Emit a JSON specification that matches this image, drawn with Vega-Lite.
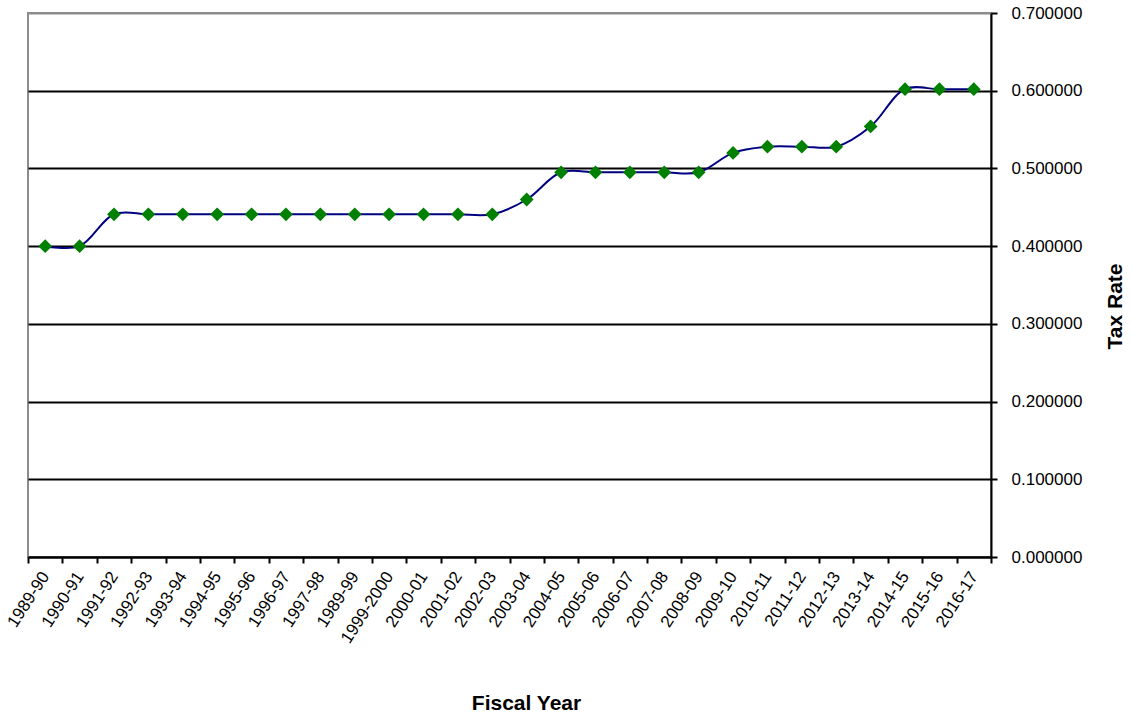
{
  "$schema": "https://vega.github.io/schema/vega-lite/v6.json",
  "width": 963,
  "height": 544,
  "autosize": {"type": "none"},
  "padding": {"left": 28, "top": 13, "right": 142, "bottom": 164},
  "background": "white",
  "config": {
    "view": {"stroke": "#8c8c8c", "strokeWidth": 2},
    "font": "Liberation Sans"
  },
  "data": {
    "values": [
      {"year": "1989-90", "rate": 0.400},
      {"year": "1990-91", "rate": 0.400},
      {"year": "1991-92", "rate": 0.441},
      {"year": "1992-93", "rate": 0.441},
      {"year": "1993-94", "rate": 0.441},
      {"year": "1994-95", "rate": 0.441},
      {"year": "1995-96", "rate": 0.441},
      {"year": "1996-97", "rate": 0.441},
      {"year": "1997-98", "rate": 0.441},
      {"year": "1989-99", "rate": 0.441},
      {"year": "1999-2000", "rate": 0.441},
      {"year": "2000-01", "rate": 0.441},
      {"year": "2001-02", "rate": 0.441},
      {"year": "2002-03", "rate": 0.441},
      {"year": "2003-04", "rate": 0.460},
      {"year": "2004-05", "rate": 0.495},
      {"year": "2005-06", "rate": 0.495},
      {"year": "2006-07", "rate": 0.495},
      {"year": "2007-08", "rate": 0.495},
      {"year": "2008-09", "rate": 0.495},
      {"year": "2009-10", "rate": 0.520},
      {"year": "2010-11", "rate": 0.528},
      {"year": "2011-12", "rate": 0.528},
      {"year": "2012-13", "rate": 0.528},
      {"year": "2013-14", "rate": 0.554},
      {"year": "2014-15", "rate": 0.602},
      {"year": "2015-16", "rate": 0.602},
      {"year": "2016-17", "rate": 0.602}
    ]
  },
  "encoding": {
    "x": {
      "field": "year",
      "type": "nominal",
      "sort": null,
      "scale": {"paddingInner": 0, "paddingOuter": 0},
      "axis": {
        "title": "Fiscal Year",
        "titleFont": "Liberation Sans",
        "titleFontSize": 21,
        "titleFontWeight": "bold",
        "titleColor": "#000",
        "titleX": 498,
        "titleY": 146,
        "titleAlign": "center",
        "titleBaseline": "middle",
        "labelAngle": -57,
        "labelAlign": "right",
        "labelBaseline": "middle",
        "labelFont": "Liberation Sans",
        "labelFontSize": 17,
        "labelColor": "#000",
        "labelPadding": 10,
        "labelOverlap": false,
        "tickBand": "extent",
        "tickColor": "#000",
        "tickWidth": 2,
        "tickSize": 6,
        "domainColor": "#000",
        "domainWidth": 2,
        "grid": false
      }
    },
    "y": {
      "field": "rate",
      "type": "quantitative",
      "scale": {"domain": [0, 0.7], "nice": false},
      "axis": {
        "orient": "right",
        "title": "Tax Rate",
        "titleFont": "Liberation Sans",
        "titleFontSize": 21,
        "titleFontWeight": "bold",
        "titleColor": "#000",
        "titleAngle": 270,
        "titleX": 124,
        "titleY": 293,
        "titleAlign": "center",
        "titleBaseline": "middle",
        "values": [0, 0.1, 0.2, 0.3, 0.4, 0.5, 0.6, 0.7],
        "format": ".6f",
        "labelFont": "Liberation Sans",
        "labelFontSize": 17,
        "labelColor": "#000",
        "labelPadding": 14,
        "tickColor": "#000",
        "tickWidth": 2,
        "tickSize": 6,
        "domainColor": "#000",
        "domainWidth": 2,
        "grid": true,
        "gridColor": {"condition": {"test": "datum.value >= 0.7", "value": "#8c8c8c"}, "value": "#000"},
        "gridWidth": 2
      }
    }
  },
  "layer": [
    {
      "mark": {"type": "line", "interpolate": "catmull-rom", "color": "#000080", "strokeWidth": 2}
    },
    {
      "mark": {"type": "point", "shape": "diamond", "filled": true, "size": 190, "color": "#008000", "opacity": 1}
    }
  ]
}
